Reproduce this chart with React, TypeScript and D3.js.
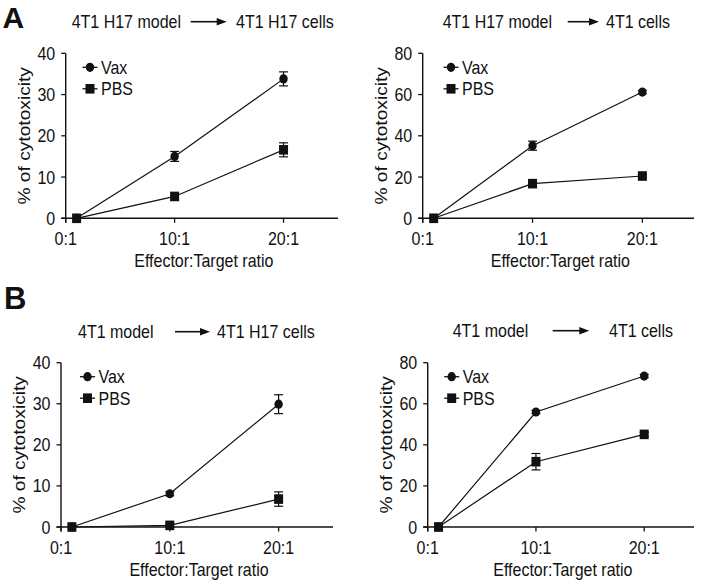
import React from "react";
import * as d3 from "d3";

// ---- data ----
const xTickValues = [0, 10, 20];
const xTickLabels = ["0:1", "10:1", "20:1"];
const ratioX = [1, 10, 20];
const seriesNames = ["Vax", "PBS"];
const yTicksLow = [0, 10, 20, 30, 40];
const yTicksHigh = [0, 20, 40, 60, 80];

const aLeftVax = [0, 15, 33.8];
const aLeftVaxErr = [0, 1.2, 1.7];
const aLeftPbs = [0, 5.3, 16.6];
const aLeftPbsErr = [0, 0.9, 1.7];

const aRightVax = [0, 35.2, 61.2];
const aRightVaxErr = [0, 2.2, 0.8];
const aRightPbs = [0, 16.8, 20.5];
const aRightPbsErr = [0, 1.8, 0.8];

const bLeftVax = [0, 8.1, 29.9];
const bLeftVaxErr = [0, 0.5, 2.3];
const bLeftPbs = [0, 0.4, 6.8];
const bLeftPbsErr = [0, 0.3, 1.75];

const bRightVax = [0, 56, 73.5];
const bRightVaxErr = [0, 0.8, 0.8];
const bRightPbs = [0, 31.8, 45.1];
const bRightPbsErr = [0, 4, 1];

const titleModels = ["4T1 H17 model", "4T1 H17 model", "4T1 model", "4T1 model"];
const titleCells = ["4T1 H17 cells", "4T1 cells", "4T1 H17 cells", "4T1 cells"];
const xAxisTitle = "Effector:Target ratio";
const yAxisTitle = "% of cytotoxicity";
const panelLetters = ["A", "B"];

// ---- layout ----
const FONT = "'Liberation Sans', Arial, Helvetica, sans-serif";
const INK = "#111";
const SY = 1.2;

const panels = [
  { x0: 65.7, xEnd: 338, dEnd: 25, yTop: 53.3, yBot: 218.3, yTicks: yTicksLow,
    legendX: 90, t1x: 71.7, a0: 190.7, a1: 226.7, t2x: 236, ty: 21.7,
    vax: aLeftVax, vaxErr: aLeftVaxErr, pbs: aLeftPbs, pbsErr: aLeftPbsErr },
  { x0: 422.7, xEnd: 694, dEnd: 24.7, yTop: 53.3, yBot: 218.3, yTicks: yTicksHigh,
    legendX: 451, t1x: 442.7, a0: 567.7, a1: 599, t2x: 606, ty: 21.7,
    vax: aRightVax, vaxErr: aRightVaxErr, pbs: aRightPbs, pbsErr: aRightPbsErr },
  { x0: 61, xEnd: 333, dEnd: 25, yTop: 362.7, yBot: 527, yTicks: yTicksLow,
    legendX: 87.5, t1x: 78, a0: 175, a1: 210, t2x: 217, ty: 331.7,
    vax: bLeftVax, vaxErr: bLeftVaxErr, pbs: bLeftPbs, pbsErr: bLeftPbsErr },
  { x0: 427.7, xEnd: 694, dEnd: 24.6, yTop: 362.7, yBot: 527, yTicks: yTicksHigh,
    legendX: 451.7, t1x: 452.7, a0: 552.7, a1: 589.3, t2x: 609, ty: 330.7,
    vax: bRightVax, vaxErr: bRightVaxErr, pbs: bRightPbs, pbsErr: bRightPbsErr },
];

function T({ x, y, children, anchor = "start", size = 16, weight = "normal", rotate = false, sy = SY }: any) {
  return (
    <text
      transform={`translate(${x},${y}) scale(1,${sy})${rotate ? " rotate(-90)" : ""}`}
      textAnchor={anchor}
      dominantBaseline="central"
      fontFamily={FONT}
      fontSize={size}
      fontWeight={weight}
      fill={INK}
    >
      {children}
    </text>
  );
}

function Marker({ kind, x, y }: any) {
  if (kind === "circle") return <ellipse cx={x} cy={y} rx={4.2} ry={4.6} fill={INK} />;
  return <rect x={x - 4.5} y={y - 4.8} width={9} height={9.6} fill={INK} />;
}

function Panel({ p, i }: any) {
  const x = d3.scaleLinear().domain([0, p.dEnd]).range([p.x0, p.xEnd]);
  const yMax = p.yTicks[p.yTicks.length - 1];
  const y = d3.scaleLinear().domain([0, yMax]).range([p.yBot, p.yTop]);
  const line = d3.line<number>().x((_, k) => x(ratioX[k])).y((v) => y(v));
  const series = [
    { name: seriesNames[0], vals: p.vax, errs: p.vaxErr, kind: "circle" },
    { name: seriesNames[1], vals: p.pbs, errs: p.pbsErr, kind: "square" },
  ];
  const tick = 4.5;
  return (
    <g>
      {/* title */}
      <T x={p.t1x} y={p.ty}>{titleModels[i]}</T>
      <line x1={p.a0} x2={p.a1 - 8} y1={p.ty} y2={p.ty} stroke={INK} strokeWidth={1.6} />
      <polygon points={`${p.a1},${p.ty} ${p.a1 - 10},${p.ty - 3.8} ${p.a1 - 10},${p.ty + 3.8}`} fill={INK} />
      <T x={p.t2x} y={p.ty}>{titleCells[i]}</T>

      {/* axes */}
      <line x1={p.x0} x2={p.x0} y1={p.yTop} y2={p.yBot + tick} stroke={INK} strokeWidth={1.4} />
      <line x1={p.x0 - tick} x2={p.xEnd} y1={p.yBot} y2={p.yBot} stroke={INK} strokeWidth={1.4} />
      {p.yTicks.map((t: number) => (
        <g key={"y" + t}>
          <line x1={p.x0 - tick} x2={p.x0} y1={y(t)} y2={y(t)} stroke={INK} strokeWidth={1.3} />
          <T x={p.x0 - 10.5} y={y(t)} anchor="end">{String(t)}</T>
        </g>
      ))}
      {xTickValues.map((t, k) => (
        <g key={"x" + t}>
          <line x1={x(t)} x2={x(t)} y1={p.yBot} y2={p.yBot + tick} stroke={INK} strokeWidth={1.3} />
          <T x={x(t)} y={p.yBot + 20} anchor="middle">{xTickLabels[k]}</T>
        </g>
      ))}
      <T x={(p.x0 + p.xEnd) / 2 + 2} y={p.yBot + 42} anchor="middle">{xAxisTitle}</T>
      <T x={p.x0 - 41} y={(p.yTop + p.yBot) / 2} anchor="middle" rotate>{yAxisTitle}</T>

      {/* data */}
      {series.map((s) => (
        <g key={s.name}>
          <path d={line(s.vals) || ""} fill="none" stroke={INK} strokeWidth={1.2} />
          {s.vals.map((v: number, k: number) => {
            const cx = x(ratioX[k]);
            const e = s.errs[k];
            return (
              <g key={k}>
                {e > 0 && (
                  <g stroke={INK} strokeWidth={1.2}>
                    <line x1={cx} x2={cx} y1={y(v - e)} y2={y(v + e)} />
                    <line x1={cx - 4.5} x2={cx + 4.5} y1={y(v + e)} y2={y(v + e)} />
                    <line x1={cx - 4.5} x2={cx + 4.5} y1={y(v - e)} y2={y(v - e)} />
                  </g>
                )}
                <Marker kind={s.kind} x={cx} y={y(v)} />
              </g>
            );
          })}
        </g>
      ))}

      {/* legend */}
      {series.map((s, k) => {
        const ly = p.yTop + 14 + k * 21.5;
        return (
          <g key={"lg" + s.name}>
            <line x1={p.legendX - 7.5} x2={p.legendX + 7.5} y1={ly} y2={ly} stroke={INK} strokeWidth={1.3} />
            <Marker kind={s.kind} x={p.legendX} y={ly} />
            <T x={p.legendX + 11} y={ly}>{s.name}</T>
          </g>
        );
      })}
    </g>
  );
}

export default function App() {
  return (
    <svg width={702} height={581} style={{ position: "absolute", left: 0, top: 0, background: "#fff" }}>
      <rect width={702} height={581} fill="#fff" />
      {panels.map((p, i) => <Panel key={i} p={p} i={i} />)}
      <text x={2.5} y={27.5} fontFamily={FONT} fontSize={30} fontWeight="bold" fill={INK}>{panelLetters[0]}</text>
      <text x={4} y={309} fontFamily={FONT} fontSize={31} fontWeight="bold" fill={INK}>{panelLetters[1]}</text>
    </svg>
  );
}
